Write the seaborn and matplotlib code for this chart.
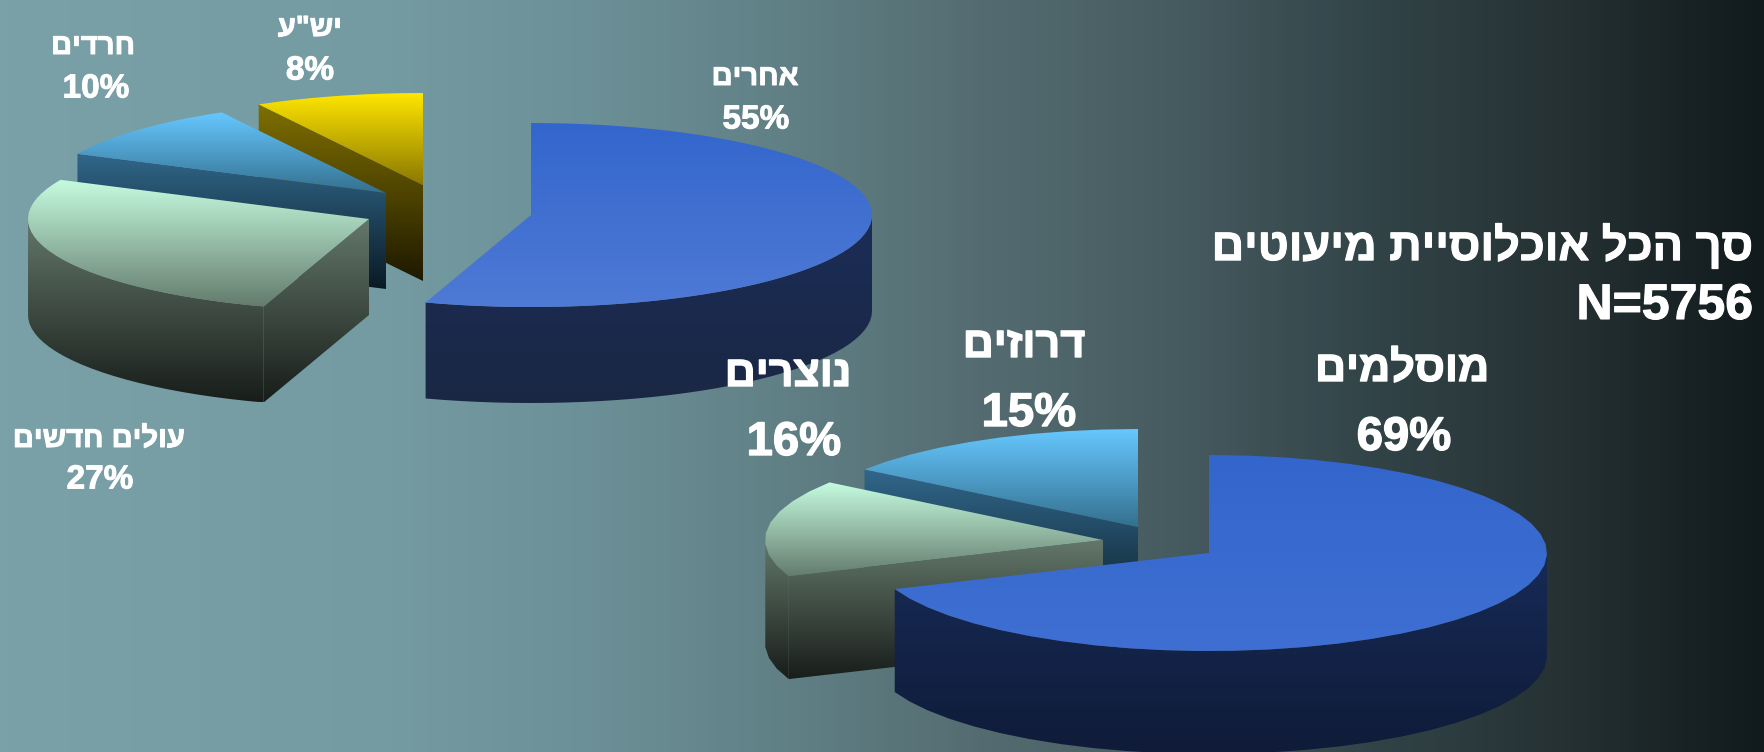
import numpy as np
import matplotlib
matplotlib.use("Agg")
import matplotlib.pyplot as plt
from matplotlib.patches import Polygon
import matplotlib.patheffects as pe
import seaborn as sns

# ---------- data ----------
left_groups = ["אחרים", "עולים חדשים", "חרדים", 'יש"ע']
left_values = [55, 27, 10, 8]

right_groups = ["מוסלמים", "נוצרים", "דרוזים"]
right_values = [69, 16, 15]

title_lines = ["סך הכל אוכלוסיית מיעוטים", "N=5756"]

# ---------- styles ----------
BG_STOPS = ["#7AA0A8", "#779DA5", "#749AA2", "#6C9097", "#608085",
            "#546C71", "#465B60", "#324448", "#253133", "#111A1C"]

BLUE = {"top": ["#3366CC", "#4F7AD6"], "side": ["#1C3060", "#1A2744"]}
BLUE2 = {"top": ["#3366CC", "#3F6FD2"], "side": ["#1B3266", "#0F1B38"]}
GREEN = {"top": ["#C6FCE0", "#647C6C"], "side": ["#64786A", "#181D1A"]}
SKY = {"top": ["#66C8FF", "#34708F"], "side": ["#31678A", "#0A1A24"]}
YELLOW = {"top": ["#FFE600", "#8A7800"], "side": ["#7F7000", "#1E1800"]}

sns.set_theme(style="white")
plt.rcParams["font.family"] = ["Liberation Sans", "DejaVu Sans"]

fig = plt.figure(figsize=(17.65, 7.52), dpi=100)
ax = fig.add_axes([0, 0, 1, 1])
ax.set_axis_off()

order = [0]


def gradient(poly, colors, y0, y1):
    # vertical gradient clipped to a polygon
    cmap = sns.blend_palette(colors, n_colors=128, as_cmap=True)
    order[0] += 1
    xs = poly[:, 0]
    g = np.linspace(0, 1, 256).reshape(-1, 1)
    im = ax.imshow(g, cmap=cmap, vmin=0, vmax=1, aspect="auto", zorder=order[0],
                   extent=[xs.min() - 1, xs.max() + 1, y1, y0], interpolation="bilinear")
    im.set_clip_path(Polygon(poly, closed=True, transform=ax.transData))


def draw_slice(apex, start, end, rx, ry, depth, style, step):
    ax_, ay = apex
    n = max(int((end - start) / step), 2) + 1
    th = np.radians(np.linspace(start, end, n))
    rim = np.column_stack([ax_ + rx * np.sin(th), ay - ry * np.cos(th)])
    top = np.vstack([[apex], rim])
    first = rim[0]

    face = np.array([apex, first, first + [0, depth], [ax_, ay + depth]])
    front = rim[np.cos(th) <= 0.05]

    ys = [ay, first[1]]
    if len(front):
        ys += list(front[:, 1])
    y0 = min(ys)
    y1 = max(ys) + depth

    gradient(face, style["side"], y0, y1)
    if len(front) > 1:
        wall = np.vstack([front, front[::-1] + [0, depth]])
        gradient(wall, style["side"], y0, y1)
    gradient(top, style["top"], top[:, 1].min(), top[:, 1].max())


def draw_pie(values, apexes, styles, rx, ry, depth, step):
    edges = np.cumsum([0] + list(values)) / sum(values) * 360
    # back slices first so the front ones paint over them
    for i in range(len(values) - 1, -1, -1):
        draw_slice(apexes[i], edges[i], edges[i + 1], rx, ry, depth, styles[i], step)


def heb(s):
    # matplotlib has no bidi, so Hebrew goes in visual order
    return s[::-1] if any("\u0590" <= c <= "\u05ff" for c in s) else s


def label(x, y, s, size, stroke=0.7):
    ax.text(x, y, heb(s), color="white", fontsize=size, fontweight="bold",
            ha="center", va="center", zorder=500,
            path_effects=[pe.withStroke(linewidth=stroke, foreground="white")])


# background
bg = sns.blend_palette(BG_STOPS, n_colors=256, as_cmap=True)
ax.imshow(np.linspace(0, 1, 512).reshape(1, -1), cmap=bg, aspect="auto",
          extent=[0, 1765, 752, 0], zorder=0)

# left pie
draw_pie(left_values, [(531, 215), (369, 219), (386, 193), (423, 185)],
         [BLUE, GREEN, SKY, YELLOW], 341, 92, 96, 3)

# right pie
draw_pie(right_values, [(1209, 553), (1103, 540), (1138, 527)],
         [BLUE2, GREEN, SKY], 338, 98, 103, 6)

ax.set_xlim(0, 1765)
ax.set_ylim(752, 0)

# labels
left_pos = [(755, 77), (99, 439), (93, 46), (310, 28)]
left_pct = [(756, 120), (100, 480), (96, 89), (310, 71)]
for n, v, p, q in zip(left_groups, left_values, left_pos, left_pct):
    label(p[0], p[1], n, 21)
    label(q[0], q[1], f"{v}%", 24)

right_pos = [(1402, 370), (788, 375), (1024, 346)]
right_pct = [(1404, 438), (794, 443), (1029, 414)]
for n, v, p, q in zip(right_groups, right_values, right_pos, right_pct):
    label(p[0], p[1], n, 31, stroke=1)
    label(q[0], q[1], f"{v}%", 34, stroke=1)

for line, y, size in zip(title_lines, [247, 306], [32.5, 36]):
    ax.text(1753, y, heb(line), color="white", fontsize=size, fontweight="bold",
            ha="right", va="center", zorder=500,
            path_effects=[pe.withStroke(linewidth=0.8, foreground="white")])

fig.savefig("out.png", dpi=100)
